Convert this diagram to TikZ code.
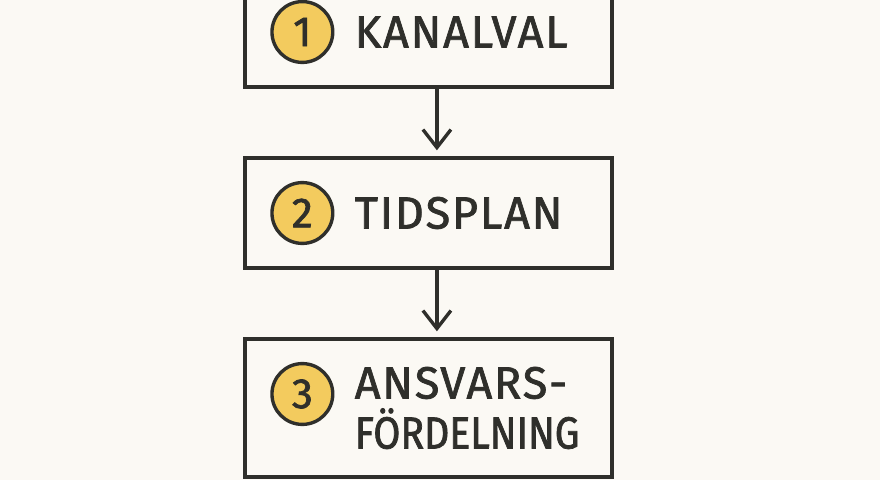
\documentclass[tikz,border=0pt]{standalone}
\usepackage{fontspec}
\setmainfont{Fira Sans}
\newfontfamily\labelfont{Fira Sans}[FakeBold=1.6, LetterSpace=4]
\newfontfamily\numfont{Fira Sans}[FakeBold=1.6]
\newcommand{\narrowline}[1]{{\addfontfeatures{LetterSpace=0, FakeStretch=0.87}#1}}
\usetikzlibrary{positioning,arrows.meta}
\definecolor{paper}{HTML}{FBF9F4}
\definecolor{ink}{HTML}{2F2F2B}
\definecolor{badge}{HTML}{F3CB5E}

\begin{document}
\begin{tikzpicture}[
    x=0.025cm, y=-0.025cm,
    stepbox/.style={rectangle, draw=ink, line width=2.4pt, minimum width=9.175cm, inner sep=0pt},
    badge/.style={circle, draw=ink, fill=badge, line width=2.4pt, minimum size=1.52cm, inner sep=0pt, text=ink, font=\numfont\fontsize{30}{30}\selectfont},
    steplabel/.style={anchor=west, align=left, inner sep=0pt, text=ink, font=\labelfont\fontsize{32}{35.6}\selectfont},
    arrow/.style={draw=ink, line width=2.4pt, -{Straight Barb[length=0.45cm,width=0.7cm]}}
]
\fill[paper] (0,0) rectangle (880,480);
\useasboundingbox (0,0) rectangle (880,480);

% Boxes
\node[stepbox, minimum height=2.75cm] (kanal) at (428.5,32) {};
\node[stepbox, minimum height=2.75cm] (tid) at (428.5,213) {};
\node[stepbox, minimum height=3.45cm] (ansvar) at (428.5,408) {};

% Numbers and labels
\node[badge, right=0.675cm of kanal.west] (kanal_num) {1};
\node[steplabel, right=0.5cm of kanal_num] (kanal_text) {KANALVAL};

\node[badge, right=0.675cm of tid.west] (tid_num) {2};
\node[steplabel, right=0.5cm of tid_num] (tid_text) {TIDSPLAN};

\node[badge, right=0.675cm of ansvar.west, yshift=0.35cm] (ansvar_num) {3};
\node[steplabel] (ansvar_text) at ([xshift=0.5cm]ansvar_num.east |- ansvar.center) {ANSVARS-\\\narrowline{FÖRDELNING}};

% Arrows
\draw[arrow, shorten >=0.15cm] ([xshift=0.21cm]kanal.south) -- ([xshift=0.21cm]tid.north);
\draw[arrow, shorten >=0.15cm] ([xshift=0.21cm]tid.south) -- ([xshift=0.21cm]ansvar.north);

\end{tikzpicture}
\end{document}
